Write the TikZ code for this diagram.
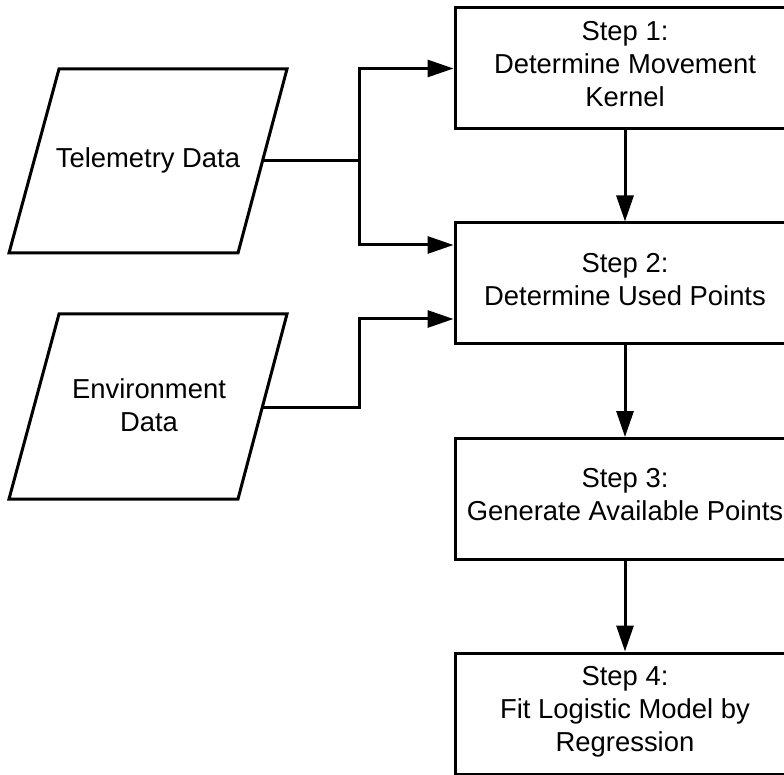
\documentclass[tikz,border=0pt]{standalone}
\usepackage{fontspec}
\setmainfont{Liberation Sans}
\usetikzlibrary{arrows.meta,calc}
\begin{document}
\begin{tikzpicture}[x=1pt,y=-1pt,
  line width=3pt,
  txt/.style={font=\fontsize{27.4pt}{33pt}\selectfont},
  stepbox/.style={txt,draw,rectangle,minimum width=340pt,minimum height=121pt,inner sep=0pt,align=center,text depth=8.5pt},
  datatext/.style={txt,align=center,inner sep=0pt},
  para/.style={draw,line join=miter},
  arr/.style={-{Triangle[length=26pt,width=17pt]}}]
\useasboundingbox (0,0) rectangle (784,775);

% step boxes
\node[stepbox] (s1) at (625,68.5) {Step 1:\\Determine Movement\\Kernel};
\node[stepbox] (s2) at (625,283.5) {Step 2:\\Determine Used Points};
\node[stepbox] (s3) at (625,499) {Step 3:\\Generate Available Points};
\node[stepbox] (s4) at (625,713.5) {Step 4:\\Fit Logistic Model by\\Regression};

% data parallelograms
\draw[para] (59,69) -- (287,69) -- (238,253) -- (9,253) -- cycle;
\node[datatext] (tel) at (148,160) {Telemetry Data};
\draw[para] (59,314) -- (287,314) -- (238,499) -- (9,499) -- cycle;
\node[datatext] (env) at (149,405) {Environment\\Data};

% connector points
\coordinate (telout) at (262.5,161);
\coordinate (j1) at (359,161);
\coordinate (envout) at (262.4,407);
\coordinate (j2) at (359,407);
\coordinate (s2a) at ([yshift=38.5pt]s2.west);
\coordinate (s2b) at ([yshift=-35.5pt]s2.west);

% connectors
\draw (telout) -- (j1);
\draw[arr] (j1) |- (s1.west);
\draw[arr] (j1) |- (s2a);
\draw[arr] (envout) -- (j2) |- (s2b);
\draw[arr] (s1) -- (s2);
\draw[arr] (s2) -- (s3);
\draw[arr] (s3) -- (s4);
\end{tikzpicture}
\end{document}
